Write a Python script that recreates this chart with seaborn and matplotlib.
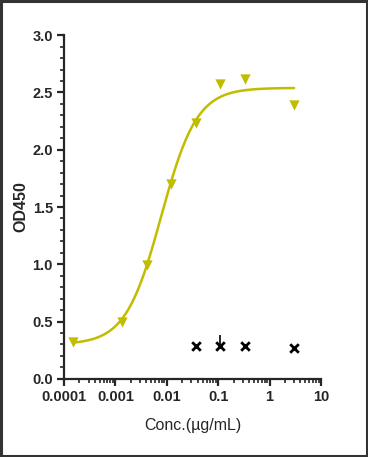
import numpy as np
import pandas as pd
import matplotlib.pyplot as plt
import seaborn as sns
from matplotlib.ticker import LogLocator, FixedLocator, MultipleLocator, FuncFormatter
from matplotlib.patches import Rectangle

# measured points
conc = [0.000152, 0.00137, 0.00412, 0.0123, 0.037, 0.111, 0.333, 3.0]
od450 = [0.32, 0.50, 0.99, 1.70, 2.23, 2.57, 2.62, 2.39]

# control points (black)
ctrl_conc = [0.037, 0.111, 0.333, 3.0]
ctrl_od = [0.29, 0.29, 0.285, 0.27]
ctrl_err_up = [0.01, 0.09, 0.01, 0.01]
ctrl_err_dn = [0.01, 0.01, 0.02, 0.01]

# 4PL fit parameters
bottom, top, ec50, hill = 0.30, 2.54, 0.0078, 1.25

sns.set_style("ticks")
plt.rcParams['font.family'] = ['Liberation Sans', 'DejaVu Sans']

fig = plt.figure(figsize=(3.68, 4.57), dpi=100)
ax = fig.add_axes([0.174, 0.171, 0.698, 0.752])

olive = '#C2BC00'
xs = np.logspace(np.log10(conc[0]), np.log10(conc[-1]), 300)
fit = pd.DataFrame({'x': xs, 'y': bottom + (top - bottom) / (1 + (ec50 / xs) ** hill)})
sns.lineplot(data=fit, x='x', y='y', ax=ax, color=olive, lw=1.8)

pts = pd.DataFrame({'x': conc, 'y': od450})
sns.scatterplot(data=pts, x='x', y='y', ax=ax, marker='v', color=olive, s=55,
                edgecolor=olive, linewidth=0, zorder=3)

ax.errorbar(ctrl_conc, ctrl_od, yerr=[ctrl_err_dn, ctrl_err_up], fmt='none',
            ecolor='black', elinewidth=1.2, capsize=0)
sns.scatterplot(x=ctrl_conc, y=ctrl_od, ax=ax, marker='x', color='black', s=38,
                linewidth=2.0, zorder=4)

ax.set_xscale('log')
ax.set_xlim(1e-4, 10)
ax.set_ylim(0, 3.0)
ax.xaxis.set_major_locator(FixedLocator([1e-4, 1e-3, 1e-2, 1e-1, 1, 10]))
ax.xaxis.set_minor_locator(LogLocator(base=10, subs=np.arange(2, 10), numticks=20))
ax.xaxis.set_major_formatter(FuncFormatter(lambda v, p: f'{v:g}' if v >= 1 else f'{v:.{int(round(-np.log10(v)))}f}'))
ax.xaxis.set_minor_formatter(FuncFormatter(lambda v, p: ''))
ax.yaxis.set_major_locator(MultipleLocator(0.5))
ax.yaxis.set_minor_locator(MultipleLocator(0.1))
ax.yaxis.set_major_formatter(FuncFormatter(lambda v, p: f'{v:.1f}'))

for s in ['top', 'right']:
    ax.spines[s].set_visible(False)
for s in ['left', 'bottom']:
    ax.spines[s].set_linewidth(1.6)
ax.tick_params(which='major', length=5, width=1.6, labelsize=10.5, pad=3)
ax.tick_params(which='minor', length=3, width=1.2)
for lbl in ax.get_xticklabels() + ax.get_yticklabels():
    lbl.set_fontweight('bold')

ax.set_xlabel('Conc.(µg/mL)', fontsize=11.5, labelpad=10)
ax.set_ylabel('OD450', fontsize=11.5, fontweight='bold', labelpad=3)

fig.patches.append(Rectangle((0.003, 0.003), 0.994, 0.994, transform=fig.transFigure,
                             fill=False, edgecolor='#333333', lw=2.2))

fig.savefig('out.png', dpi=100)
